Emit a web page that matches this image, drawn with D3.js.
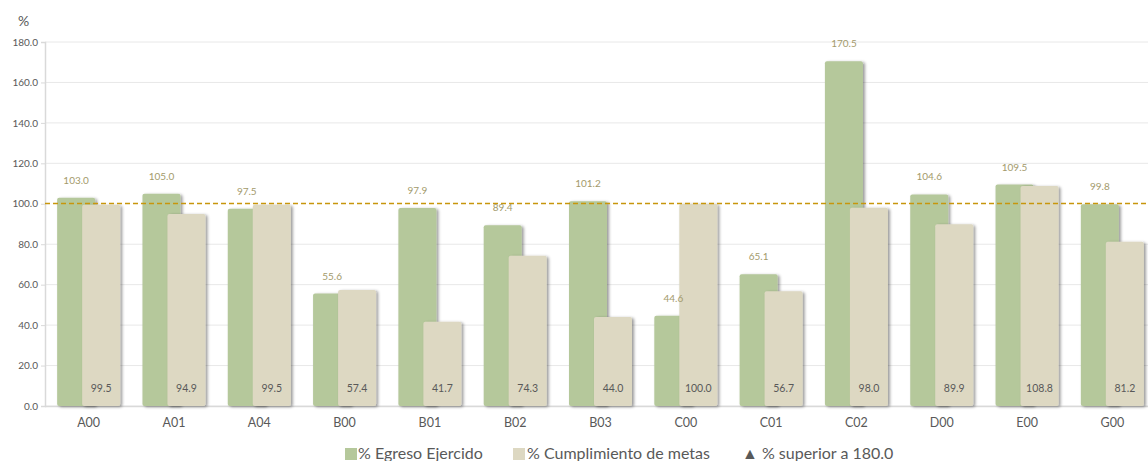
<!DOCTYPE html>
<html><head><meta charset="utf-8">
<script src="https://cdn.jsdelivr.net/npm/d3@7"></script>
<style>
body{margin:0;background:#fff;font-family:Lato,"Open Sans",sans-serif;}
svg{display:block;}
</style></head><body>
<svg id="c" width="1148" height="461"></svg>
<script>
const categories = ["A00","A01","A04","B00","B01","B02","B03","C00","C01","C02","D00","E00","G00"];
const egreso = [103.0,105.0,97.5,55.6,97.9,89.4,101.2,44.6,65.1,170.5,104.6,109.5,99.8];
const cumplimiento = [99.5,94.9,99.5,57.4,41.7,74.3,44.0,100.0,56.7,98.0,89.9,108.8,81.2];
const yTicks = [0,20,40,60,80,100,120,140,160,180];
const reference = 100;
const legendLabels = ["% Egreso Ejercido","% Cumplimiento de metas","▲ % superior a 180.0"];

const svg = d3.select("#c");
const defs = svg.append("defs");
const f = defs.append("filter").attr("id","sh").attr("x","-20%").attr("y","-10%").attr("width","150%").attr("height","130%");
f.append("feDropShadow").attr("dx",2).attr("dy",1).attr("stdDeviation",1.6).attr("flood-color","#000").attr("flood-opacity",0.4);

const x = d3.scaleBand().domain(categories).range([46,1155]).padding(0);
const y = d3.scaleLinear().domain([0,180]).range([406,42]);
const bw = 38, off = 25;
const groupW = bw + off;

// gridlines
svg.append("g").selectAll("line").data(yTicks.filter(d=>d!==reference)).join("line")
  .attr("x1",45).attr("x2",1148).attr("y1",d=>y(d)).attr("y2",d=>y(d))
  .attr("stroke","#e8e8e8").attr("stroke-width",1);

// y axis
const yAxis = svg.append("g").attr("transform","translate(45,0)")
  .call(d3.axisLeft(y).tickValues(yTicks).tickFormat(d3.format(".1f")).tickSize(4).tickPadding(3));
yAxis.select(".domain").attr("stroke","#d9d9d9").attr("stroke-width",1.5);
yAxis.selectAll(".tick line").attr("stroke","#d9d9d9");
yAxis.selectAll("text").attr("fill","#595959").style("font-family","Lato").style("font-size","10px");

// x axis line
svg.append("line").attr("x1",45).attr("x2",1148).attr("y1",406.5).attr("y2",406.5).attr("stroke","#d9d9d9").attr("stroke-width",1.5);

svg.append("text").attr("x",18).attr("y",26).attr("fill","#595959").style("font-size","14px").style("font-family","Lato").text("%");

const gx = c => x(c) + (x.bandwidth() - groupW)/2;

// green bars
svg.append("g").selectAll("rect").data(categories).join("rect")
  .attr("x",(c)=>gx(c)).attr("width",bw)
  .attr("y",(c,i)=>y(egreso[i])).attr("height",(c,i)=>y(0)-y(egreso[i]))
  .attr("rx",2).attr("fill","#b5c89b").attr("filter","url(#sh)");
// beige bars
svg.append("g").selectAll("rect").data(categories).join("rect")
  .attr("x",(c)=>gx(c)+off).attr("width",bw)
  .attr("y",(c,i)=>y(cumplimiento[i])).attr("height",(c,i)=>y(0)-y(cumplimiento[i]))
  .attr("rx",2).attr("fill","#ddd8c2").attr("filter","url(#sh)");

// reference dashed line
const ry = Math.round(y(reference)) - 0.5;
svg.append("line").attr("x1",45).attr("x2",1148).attr("y1",ry).attr("y2",ry)
  .style("stroke","#c8960c").style("stroke-width","1.4px").style("stroke-dasharray","5,3");

// labels
svg.append("g").selectAll("text").data(categories).join("text")
  .attr("x",c=>gx(c)+bw/2).attr("y",(c,i)=>y(egreso[i])-14)
  .attr("text-anchor","middle").attr("fill","#a39a6b").style("font-size","10px").style("font-family","Lato")
  .text((c,i)=>egreso[i].toFixed(1));
svg.append("g").selectAll("text").data(categories).join("text")
  .attr("x",c=>gx(c)+off+bw/2).attr("y",392)
  .attr("text-anchor","middle").attr("fill","#595959").style("font-size","10.5px").style("font-family","Lato")
  .text((c,i)=>cumplimiento[i].toFixed(1));

// x labels
svg.append("g").selectAll("text").data(categories).join("text")
  .attr("x",c=>gx(c)+groupW/2).attr("y",427)
  .attr("text-anchor","middle").attr("fill","#595959").style("font-size","12.5px").style("font-family","Lato")
  .text(c=>c);

// legend
const lg = svg.append("g").style("font-family","Lato").style("font-size","16px").attr("fill","#595959");
lg.append("rect").attr("x",345).attr("y",448).attr("width",12).attr("height",12).attr("fill","#b5c89b");
lg.append("text").attr("x",358).attr("y",459).text(legendLabels[0]);
lg.append("rect").attr("x",513).attr("y",448).attr("width",12).attr("height",12).attr("fill","#ddd8c2");
lg.append("text").attr("x",527).attr("y",459).text(legendLabels[1]);
lg.append("text").attr("x",742).attr("y",459).text(legendLabels[2]);
</script>
</body></html>
